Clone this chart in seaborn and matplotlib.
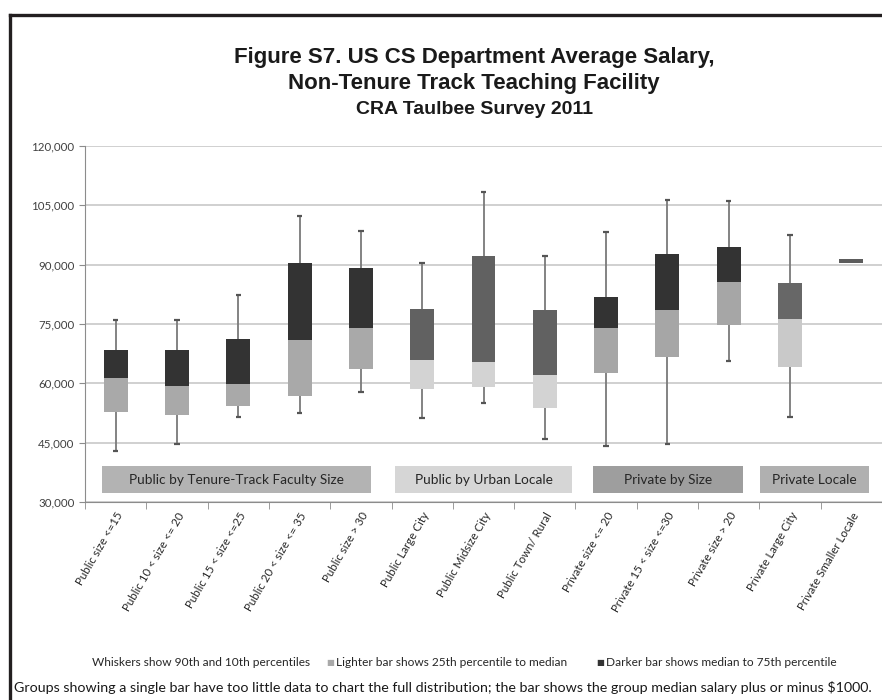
import numpy as np
import pandas as pd
import seaborn as sns
import matplotlib.pyplot as plt
import matplotlib.ticker as mticker
from matplotlib.patches import Rectangle
from matplotlib.lines import Line2D

# datos (salarios en dolares)
categorias = ['Public size <=15', 'Public 10 < size <= 20', 'Public 15 < size <=25',
              'Public 20 < size <= 35', 'Public size > 30', 'Public Large City',
              'Public Midsize City', 'Public Town/ Rural', 'Private size <= 20',
              'Private 15 < size <=30', 'Private size > 20', 'Private Large City']
grupo = [0, 0, 0, 0, 0, 1, 1, 1, 2, 2, 2, 3]
p10 = [42850, 44550, 51550, 52550, 57900, 51200, 55100, 45900, 44050, 44700, 65750, 51550]
p25 = [52650, 51900, 54350, 56800, 63700, 58550, 59000, 53650, 62700, 66650, 74750, 64250]
p50 = [61250, 59300, 59900, 70900, 73900, 66000, 65500, 62050, 73900, 78550, 85500, 76150]
p75 = [68550, 68550, 71200, 90300, 89050, 78800, 92100, 78550, 81950, 92700, 94550, 85400]
p90 = [75900, 76050, 82450, 102400, 98600, 90500, 108300, 92200, 98250, 106450, 106050, 97400]

# grupo con un solo valor: mediana +/- margen
unico_cat = 'Private Smaller Locale'
unico_mediana = 90900
unico_margen = 500

nombres_grupos = ['Public by Tenure-Track Faculty Size', 'Public by Urban Locale',
                  'Private by Size', 'Private Locale']

todas = categorias + [unico_cat]
claro = ['#a9a9a9', '#d3d3d3', '#a6a6a6', '#c9c9c9']
oscuro = ['#333333', '#616161', '#333333', '#676767']
fondo_grupo = ['#b3b3b3', '#d6d6d6', '#9e9e9e', '#b0b0b0']
spans_grupo = [(-0.22, 4.16), (4.56, 7.44), (7.79, 10.24), (10.51, 12.29)]

df = pd.DataFrame({'cat': categorias, 'grupo': grupo, 'p10': p10, 'p25': p25,
                   'p50': p50, 'p75': p75, 'p90': p90})

fig = plt.figure(figsize=(8.82, 7), dpi=100)
ax = fig.add_axes([85 / 882, 1 - 502 / 700, 797 / 882, 356 / 700])

for g, sub in df.groupby('grupo'):
    sns.barplot(x=list(sub['cat']), y=list(sub['p50'] - sub['p25']), bottom=sub['p25'].values,
                order=todas, color=claro[g], saturation=1, width=0.39, errorbar=None,
                linewidth=0, zorder=3, ax=ax)
    sns.barplot(x=list(sub['cat']), y=list(sub['p75'] - sub['p50']), bottom=sub['p50'].values,
                order=todas, color=oscuro[g], saturation=1, width=0.39, errorbar=None,
                linewidth=0, zorder=3, ax=ax)
sns.barplot(x=[unico_cat], y=[2 * unico_margen], bottom=unico_mediana - unico_margen,
            order=todas, color='#5c5c5c', saturation=1, width=0.39, errorbar=None,
            linewidth=0, zorder=3, ax=ax)

# bigotes
pos = np.arange(len(categorias))
ax.vlines(pos, df['p10'], df['p90'], color='#7a7a7a', lw=1.3, zorder=2)
ax.hlines(df['p90'], pos - 0.045, pos + 0.045, color='#555555', lw=1.6, zorder=2)
ax.hlines(df['p10'], pos - 0.045, pos + 0.045, color='#555555', lw=1.6, zorder=2)

# etiquetas de grupo
for (a, b), nombre, c in zip(spans_grupo, nombres_grupos, fondo_grupo):
    ax.add_patch(Rectangle((a, 32300), b - a, 6700, facecolor=c, edgecolor='none', zorder=2))
    ax.text((a + b) / 2, 35650, nombre, ha='center', va='center', fontsize=9.8,
            color='#262626', family='Lato', zorder=4)

ax.set_ylim(30000, 120000)
ax.set_xlim(-0.5, 12.5)
ax.set_yticks(np.arange(30000, 120001, 15000))
ax.yaxis.set_major_formatter(mticker.StrMethodFormatter('{x:,.0f}'))
ax.yaxis.grid(True, color='#c4c4c4', lw=1.1, zorder=0)
ax.set_axisbelow(True)
ax.set_xlabel('')
ax.set_ylabel('')
for lado in ['top', 'right']:
    ax.spines[lado].set_visible(False)
ax.spines['left'].set_color('#8c8c8c')
ax.spines['bottom'].set_color('#8c8c8c')
ax.tick_params(axis='y', length=4, color='#8c8c8c', labelsize=8.3, labelcolor='#404040')
ax.set_xticks(pos.tolist() + [12])
ax.set_xticklabels(todas, rotation=60, ha='right', rotation_mode='anchor',
                   fontsize=8.3, color='#262626', family='Lato')
ax.tick_params(axis='x', length=0, pad=6)
ax.set_xticks(np.arange(-0.5, 12.6, 1), minor=True)
ax.tick_params(axis='x', which='minor', length=5, color='#8c8c8c')
for lab in ax.get_yticklabels():
    lab.set_family('Lato')

# titulo
titulo_fam = ['Liberation Sans Narrow', 'Liberation Sans']
xc = 474 / 882
fig.text(xc, 1 - 57 / 700, 'Figure S7. US CS Department Average Salary,', ha='center', va='center',
         fontsize=16, fontweight='bold', family=titulo_fam, color='#1a1a1a')
fig.text(xc, 1 - 83 / 700, 'Non-Tenure Track Teaching Facility', ha='center', va='center',
         fontsize=16, fontweight='bold', family=titulo_fam, color='#1a1a1a')
fig.text(xc, 1 - 109 / 700, 'CRA Taulbee Survey 2011', ha='center', va='center',
         fontsize=14, fontweight='bold', family=titulo_fam, color='#1a1a1a')

# leyenda
y_ley = 1 - 662 / 700
fig.text(92 / 882, y_ley, 'Whiskers show 90th and 10th percentiles', ha='left', va='center',
         fontsize=8.6, family='Lato', color='#262626')
fig.text(326 / 882, y_ley, '■', ha='left', va='center', fontsize=6, color=claro[0])
fig.text(336 / 882, y_ley, 'Lighter bar shows 25th percentile to median', ha='left', va='center',
         fontsize=8.6, family='Lato', color='#262626')
fig.text(596 / 882, y_ley, '■', ha='left', va='center', fontsize=6, color=oscuro[0])
fig.text(606 / 882, y_ley, 'Darker bar shows median to 75th percentile', ha='left', va='center',
         fontsize=8.6, family='Lato', color='#262626')
fig.text(14 / 882, 1 - 688 / 700,
         'Groups showing a single bar have too little data to chart the full distribution;'
         ' the bar shows the group median salary plus or minus $1000.',
         ha='left', va='center', fontsize=10.3, family='Lato', color='#1a1a1a')

# marco
fig.add_artist(Line2D([9.5 / 882, 9.5 / 882], [0, 1 - 15 / 700], color='#231f20', lw=2.4))
fig.add_artist(Line2D([9.5 / 882, 1], [1 - 15 / 700, 1 - 15 / 700], color='#231f20', lw=2.4))

fig.savefig('out.png', dpi=100)
